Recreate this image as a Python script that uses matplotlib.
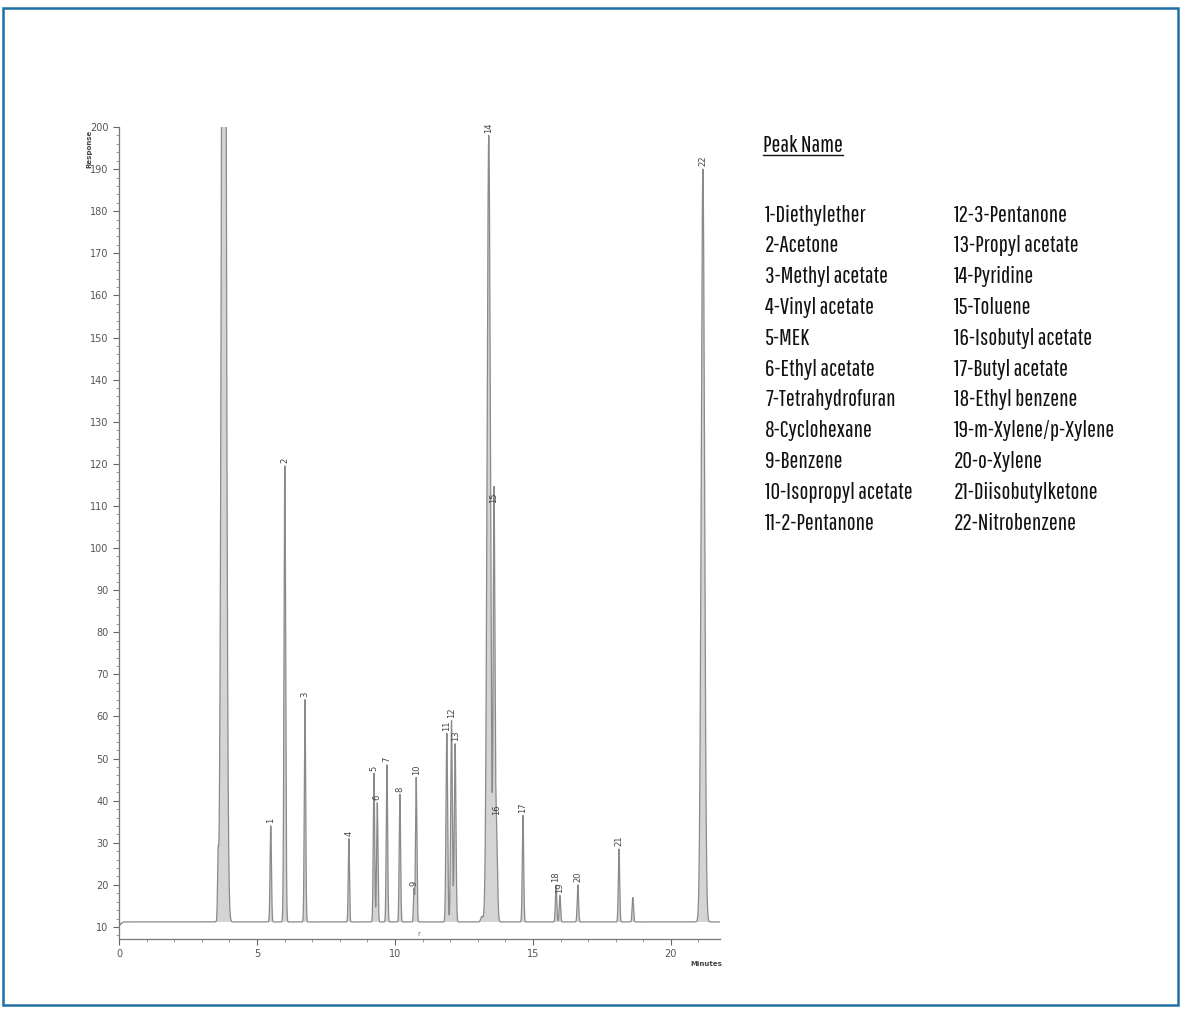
import numpy as np
import matplotlib
matplotlib.use("Agg")
import matplotlib.pyplot as plt
from matplotlib.lines import Line2D
from matplotlib.patches import Rectangle

# ---------------- data ----------------
peak_labels = [str(i) for i in range(1, 23)]
peak_rt = [5.50, 6.01, 6.74, 8.33, 9.24, 9.36, 9.71, 10.18, 10.69, 10.77, 11.88,
           12.05, 12.18, 13.40, 13.59, 13.67, 14.64, 15.84, 15.98, 16.63, 18.12, 21.16]
peak_height = [34, 119.5, 64, 31, 46.5, 39.5, 48.5, 41.5, 19, 45.5, 56,
               59, 53.5, 198, 110, 36, 36.5, 20, 17.5, 20, 28.5, 190]
peak_sigma = [0.025, 0.03, 0.025, 0.022, 0.025, 0.025, 0.025, 0.025, 0.02, 0.025, 0.03,
              0.03, 0.03, 0.06, 0.03, 0.04, 0.025, 0.025, 0.025, 0.025, 0.025, 0.06]
extra_rt = [3.59, 3.80, 13.15, 18.62]
extra_height = [24, 420, 12.5, 17]
extra_sigma = [0.02, 0.07, 0.04, 0.025]
baseline_level = 11.2

compounds = ["Diethylether", "Acetone", "Methyl acetate", "Vinyl acetate", "MEK",
             "Ethyl acetate", "Tetrahydrofuran", "Cyclohexane", "Benzene",
             "Isopropyl acetate", "2-Pentanone", "3-Pentanone", "Propyl acetate",
             "Pyridine", "Toluene", "Isobutyl acetate", "Butyl acetate",
             "Ethyl benzene", "m-Xylene/p-Xylene", "o-Xylene", "Diisobutylketone",
             "Nitrobenzene"]

y_ticks = list(range(10, 201, 10))
x_ticks = [0, 5, 10, 15, 20]

# ---------------- trace ----------------
W, H = 1181, 1009
fig = plt.figure(figsize=(W / 100, H / 100), dpi=100)
fig.patch.set_facecolor("white")

ax = fig.add_axes([119 / W, 1 - 939 / H, (720 - 119) / W, (939 - 127) / H])
t = np.linspace(0, 21.8, 30000)
trace = np.full_like(t, baseline_level)
trace -= 0.9 * np.clip(1 - t / 0.15, 0, 1)
for rt, h, s in zip(peak_rt + extra_rt, peak_height + extra_height, peak_sigma + extra_sigma):
    trace += (h - baseline_level) * np.exp(-((t - rt) ** 2) / (2 * s ** 2))

ax.fill_between(t, baseline_level, trace, color="#d4d4d4", lw=0)
ax.plot(t, trace, color="#8a8a8a", lw=0.9)

for lab, rt, h in zip(peak_labels, peak_rt, peak_height):
    ax.annotate(lab, (rt, h), xytext=(0, 2), textcoords="offset points",
                rotation=90, ha="center", va="bottom", fontsize=6, color="#444444")

ax.text(10.85, 8.3, "r", fontsize=5, color="#777777", ha="center", va="center")

ax.set_xlim(0, 21.78)
ax.set_ylim(7.15, 200)
ax.set_yticks(y_ticks)
ax.set_yticks(np.arange(8, 201, 2), minor=True)
ax.set_xticks(x_ticks)
ax.set_xticks(np.arange(0, 22, 1), minor=True)
ax.tick_params(axis="both", which="major", direction="out", length=4, width=0.8,
               color="#666666", labelcolor="#555555", labelsize=7)
ax.tick_params(axis="both", which="minor", direction="out", length=2, width=0.6,
               color="#888888")
for side in ["top", "right"]:
    ax.spines[side].set_visible(False)
for side in ["left", "bottom"]:
    ax.spines[side].set_color("#777777")
    ax.spines[side].set_linewidth(0.9)
ax.set_facecolor("white")

fig.text(89 / W, 1 - 149 / H, "Response", rotation=90, fontsize=5, fontweight="bold",
         color="#444444", ha="center", va="center")
fig.text(706 / W, 1 - 964 / H, "Minutes", fontsize=5, fontweight="bold",
         color="#444444", ha="center", va="center")

# ---------------- legend text ----------------
fam = ["Pathway Gothic One", "Barlow Condensed", "DejaVu Sans"]
fs = 17
fig.text(763 / W, 1 - 145 / H, "Peak Name", fontsize=fs, family=fam,
         color="#111111", ha="left", va="center")
fig.add_artist(Line2D([763 / W, 843 / W], [1 - 155 / H, 1 - 155 / H],
                      color="#111111", lw=1.0))
for i, name in enumerate(compounds):
    col = 0 if i < 11 else 1
    row = i if i < 11 else i - 11
    x = 765 if col == 0 else 954
    y = 215 + row * 30.8
    fig.text(x / W, 1 - y / H, f"{i + 1}-{name}", fontsize=fs, family=fam,
             color="#111111", ha="left", va="center")

# ---------------- frame ----------------
fig.add_artist(Rectangle((3 / W, 4 / H), (W - 6) / W, (H - 12) / H,
                         transform=fig.transFigure, fill=False,
                         edgecolor="#1f6ea6", lw=1.8))

fig.savefig("out.png", dpi=100, facecolor="white")
